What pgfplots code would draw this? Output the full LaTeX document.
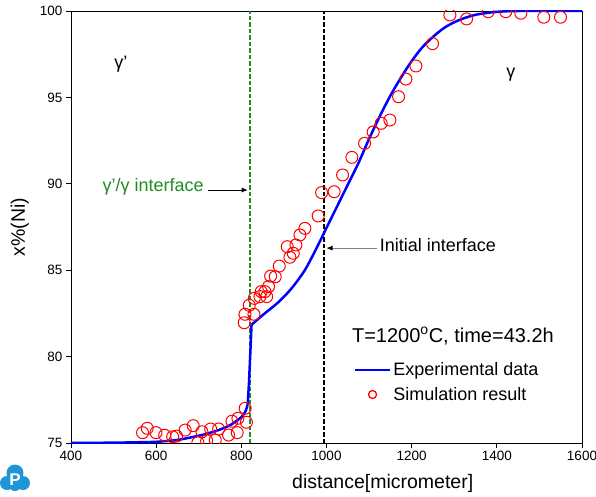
\documentclass[border=0pt]{standalone}
\usepackage{fontspec}
\setmainfont{Liberation Sans}
\usepackage{pgfplots}
\pgfplotsset{compat=1.18}
\usetikzlibrary{arrows.meta}

\definecolor{simred}{RGB}{255,0,0}
\definecolor{expblue}{RGB}{0,0,255}
\definecolor{ifgreen}{RGB}{34,139,34}
\definecolor{logoblue}{RGB}{28,150,215}

\begin{document}
\begin{tikzpicture}
\begin{axis}[
    scale only axis,
    width=511pt, height=432pt,
    xmin=400, xmax=1600, ymin=75, ymax=100,
    xtick={400,600,...,1600}, ytick={75,80,...,100},
    axis line style={line width=0.8pt},
    tick style={black, line width=0.8pt},
    tick align=outside, major tick length=5pt,
    xtick pos=bottom, ytick pos=left,
    tick label style={font=\fontsize{13.5}{15}\selectfont},
    /pgf/number format/assume math mode=true,
    /pgf/number format/1000 sep={},
    xlabel={distance[micrometer]},
    ylabel={x\%(Ni)},
    label style={font=\fontsize{19.5}{22}\selectfont},
    xlabel style={at={(axis description cs:0.61,-0.093)}, anchor=center},
    ylabel style={at={(axis description cs:-0.1,0.5)}, anchor=center},
    clip marker paths=true,
    legend style={draw=none, fill=none, at={(0.553,0.191)}, anchor=north west,
        font=\fontsize{18}{20}\selectfont, row sep=6pt, inner sep=0pt},
    legend cell align=left,
    legend image code/.code={\draw[mark repeat=2,mark phase=2,#1] plot coordinates {(0pt,0pt) (17.5pt,0pt) (35pt,0pt)};},
]
\coordinate (O) at (rel axis cs:0,0);

\addlegendimage{expblue, line width=2.5pt}
\addlegendentry{Experimental data}
\addlegendimage{only marks, mark=o, simred, mark size=4pt, line width=1.3pt}
\addlegendentry{Simulation result}

% interfaces
\addplot[forget plot, ifgreen, line width=1.7pt, dash pattern=on 4.5pt off 2pt] coordinates {(820,75) (820,100)};
\addplot[forget plot, black, line width=1.9pt, dash pattern=on 4.5pt off 2pt] coordinates {(994.5,75) (994.5,100)};

% experimental profile
\addplot[forget plot, expblue, line width=2.5pt, smooth] coordinates {
(400,75.0) (500,75.02) (550,75.04) (600,75.07) (650,75.18) (700,75.42)
(725,75.58) (750,75.78) (775,76.05) (800,76.5) (810,76.85) (815,77.25)};
\addplot[forget plot, expblue, line width=2.5pt] coordinates {
(815,77.25) (818,78.5) (824,81.85)};
\addplot[forget plot, expblue, line width=2.5pt, smooth] coordinates {
(824,81.85) (855,82.5) (887,83.15) (918,83.95) (949,85.0) (975,86.2)
(1000,87.45) (1025,88.7) (1050,89.95) (1075,91.2)
(1100,92.6) (1125,93.9) (1150,95.1) (1175,96.15) (1200,97.1) (1225,97.9)
(1250,98.5) (1275,99.0) (1300,99.35) (1325,99.6) (1350,99.78) (1375,99.88)
(1400,99.95) (1450,100) (1600,100)};

% simulation
\addplot[forget plot, only marks, mark=o, simred, mark size=6pt, line width=1pt] coordinates {
(568,75.60) (579,75.85) (599.5,75.60) (620,75.45) (638.7,75.36) (648,75.40)
(668,75.75) (687,76.00) (698,75.02) (707.5,75.65) (718.5,75.13) (728,75.81)
(738.7,75.17) (746.7,75.81) (770,75.46) (778,76.26) (790.4,75.60) (792,76.43)
(809,77.01) (812,76.20) (806.8,81.96) (808.5,82.45) (818.6,82.97) (829.6,82.45)
(830.3,83.37) (843.7,83.47) (846.7,83.76) (855.4,83.76) (859.4,83.47) (864,84.05)
(868.8,84.66) (879.6,84.62) (889,85.24) (907.8,86.36) (914,85.75) (921.9,85.98)
(928.2,86.46) (937.6,87.04) (949.3,87.42) (980.5,88.14) (988.5,89.49) (1018,89.54)
(1037.8,90.51) (1059.6,91.53) (1089.4,92.34) (1109.6,93.00) (1128.4,93.50) (1148.8,93.69)
(1169.2,95.04) (1186.4,96.06) (1209.9,96.82) (1249,98.11) (1289.7,99.77) (1328.9,99.54)
(1379.6,99.96) (1421,99.96) (1456.3,99.87) (1510.3,99.64) (1549.5,99.64)};

% annotations
\node[font=\fontsize{18}{20}\selectfont] at (axis cs:517,96.9) {γ'};
\node[font=\fontsize{18}{20}\selectfont] at (axis cs:1433,96.3) {γ};
\node[font=\fontsize{18}{20}\selectfont, text=ifgreen, anchor=base east, inner sep=0pt] at (axis cs:712,89.54) {γ'/γ interface};
\draw[line width=0.8pt, -{Latex[length=6pt,width=5pt]}] (axis cs:722,89.64) -- (axis cs:815,89.64);
\node[font=\fontsize{18}{20}\selectfont, anchor=base west, inner sep=0pt] at (axis cs:1125,86.08) {Initial interface};
\draw[line width=0.8pt, gray, -{Latex[length=6pt,width=5pt,black]}] (axis cs:1118,86.28) -- (axis cs:1000,86.28);
\node[font=\fontsize{20}{22}\selectfont, anchor=base west, inner sep=0pt] at (axis cs:1059.6,80.83) {T=1200\textsuperscript{o}C, time=43.2h};
\end{axis}

% logo
\fill[logoblue] ([shift={(-56pt,-30pt)}]O) circle (8.5pt);
\fill[logoblue] ([shift={(-64pt,-40pt)}]O) circle (7pt);
\fill[logoblue] ([shift={(-48pt,-40pt)}]O) circle (7pt);
\fill[logoblue] ([shift={(-56pt,-42pt)}]O) circle (6pt);
\node[text=white, font=\bfseries\fontsize{17}{17}\selectfont, inner sep=0pt] at ([shift={(-56pt,-37pt)}]O) {P};

\pgfresetboundingbox
\path[use as bounding box] ([shift={(-71pt,-53pt)}]O) rectangle ++(596pt,496pt);
\end{tikzpicture}
\end{document}
